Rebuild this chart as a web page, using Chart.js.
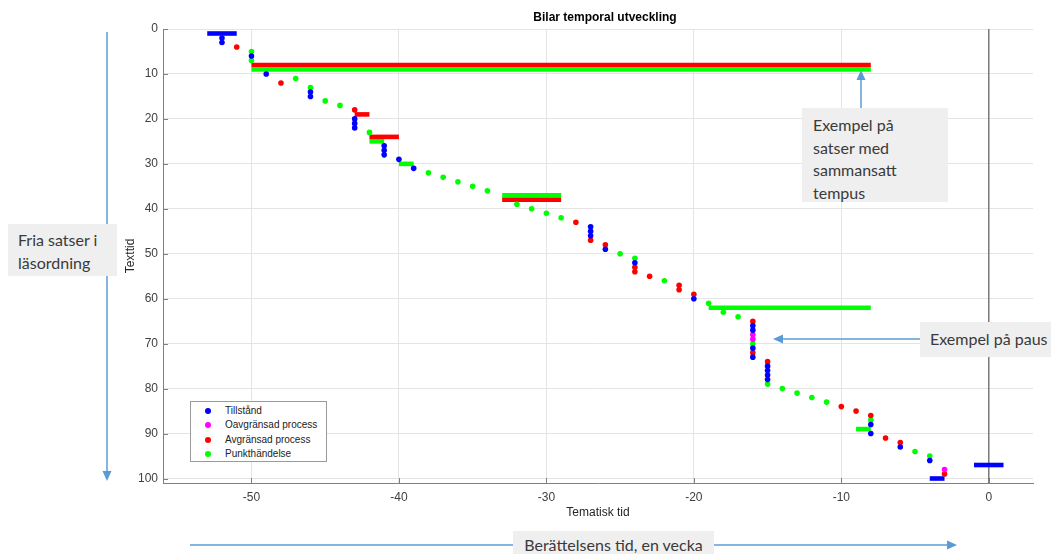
<!DOCTYPE html>
<html>
<head>
<meta charset="utf-8">
<title>Bilar temporal utveckling</title>
<script src="https://cdn.jsdelivr.net/npm/chart.js@4.4.1/dist/chart.umd.min.js"></script>
<style>
  html, body { margin: 0; padding: 0; background: #fff; }
  #wrap { position: relative; width: 1051px; height: 554px; overflow: hidden; }
  #chart { position: absolute; left: 0; top: 0; }
  .note {
    position: absolute; box-sizing: border-box; white-space: nowrap;
    background: #efefef; color: #3a3a3a;
    font-family: Lato, "Noto Sans", sans-serif; font-size: 16px; line-height: 22.5px;
  }
  #legend {
    position: absolute; left: 190px; top: 401px; width: 137px; height: 61px;
    box-sizing: border-box; border: 1px solid #9a9a9a; background: #fff;
    font-family: "Liberation Sans", Arial, sans-serif; font-size: 10px; color: #222;
    padding-top: 1.5px;
  }
  #legend .row { position: relative; height: 14.5px; line-height: 14.5px; padding-left: 34px; }
  #legend .dot { position: absolute; left: 14px; top: 4.2px; width: 6px; height: 6px; border-radius: 50%; }
</style>
</head>
<body>
<div id="wrap">
  <canvas id="chart" width="1051" height="554"></canvas>
  <div id="legend"></div>
  <div class="note" style="left:8px;top:224px;width:109px;height:52px;padding:5px 10px;">Fria satser i<br>läsordning</div>
  <div class="note" style="left:513px;top:531px;width:201px;height:23px;padding:3px 0 0 0;text-align:center;">Berättelsens tid, en vecka</div>
  <div class="note" style="left:802px;top:108px;width:146px;height:94px;padding:6px 11px;">Exempel på<br>satser med<br>sammansatt<br>tempus</div>
  <div class="note" style="left:920px;top:322px;width:131px;height:35px;padding:6px 10px;">Exempel på paus</div>
</div>
<script>
// Axis tick values
const xTicks = [-50, -40, -30, -20, -10, 0];
const yTicks = [0, 10, 20, 30, 40, 50, 60, 70, 80, 90, 100];

// Sentence points: [thematic time, text time]
const tillstand = [
  [-52, 2], [-52, 3], [-50, 6], [-49, 10], [-46, 14], [-46, 15], [-43, 20], [-43, 21], [-43, 22],
  [-41, 26], [-41, 27], [-41, 28], [-40, 29], [-39, 31], [-27, 44], [-27, 45], [-27, 46], [-26, 49],
  [-24, 52], [-20, 60], [-16, 66], [-16, 67], [-16, 71], [-16, 73], [-15, 75], [-15, 76], [-15, 77],
  [-15, 78], [-8, 88], [-8, 90], [-6, 93], [-4, 96]
];
const oavgransad = [[-16, 68], [-16, 69], [-3, 98]];
const avgransad = [
  [-51, 4], [-48, 12], [-43, 18], [-28, 43], [-27, 47], [-26, 48], [-24, 53], [-24, 54], [-23, 55],
  [-21, 57], [-21, 58], [-20, 59], [-16, 65], [-16, 72], [-15, 74], [-10, 84], [-9, 85], [-8, 86],
  [-7, 91], [-6, 92], [-3, 99]
];
const punkt = [
  [-50, 5], [-50, 7], [-47, 11], [-46, 13], [-45, 16], [-44, 17], [-42, 23], [-38, 32], [-37, 33],
  [-36, 34], [-35, 35], [-34, 36], [-32, 39], [-31, 40], [-30, 41], [-29, 42], [-25, 50], [-24, 51],
  [-22, 56], [-19, 61], [-18, 63], [-17, 64], [-16, 70], [-15, 79], [-14, 80], [-13, 81], [-12, 82],
  [-11, 83], [-8, 87], [-5, 94], [-4, 95]
];

// Sentences spanning a stretch of thematic time: [from, to, text time]
const tillstandSpans = [[-53, -51, 1], [-4, -3, 100], [-1, 1, 97]];
const avgransadSpans = [[-50, -8, 8], [-43, -42, 19], [-42, -40, 24], [-33, -29, 38]];
const punktSpans = [[-50, -8, 9], [-42, -41, 25], [-40, -39, 30], [-33, -29, 37], [-19, -8, 62], [-9, -8, 89]];

// Present moment of the story
const nu = 0;

const categories = ['Tillstånd', 'Oavgränsad process', 'Avgränsad process', 'Punkthändelse'];
const colors = ['#0000ff', '#ff00ff', '#ff0000', '#00ff00'];
const pointSets = [tillstand, oavgransad, avgransad, punkt];
const spanSets = [tillstandSpans, [], avgransadSpans, punktSpans];

const FONT = '"Liberation Sans", Arial, Helvetica, sans-serif';

const datasets = [];
// reference line at the story's present
datasets.push({
  type: 'line', data: [{ x: nu, y: 0 }, { x: nu, y: 101 }],
  borderColor: '#7a7a7a', borderWidth: 1.5, pointRadius: 0, order: 5, clip: false
});
// spans as thick horizontal segments
spanSets.forEach((spans, i) => {
  spans.forEach(([a, b, t]) => {
    datasets.push({
      type: 'line', data: [{ x: a, y: t }, { x: b, y: t }],
      borderColor: colors[i], borderWidth: 4.6, borderCapStyle: 'butt',
      pointRadius: 0, order: 3
    });
  });
});
// points
pointSets.forEach((pts, i) => {
  datasets.push({
    type: 'scatter', label: categories[i],
    data: pts.map(([x, y]) => ({ x, y })),
    backgroundColor: colors[i], borderWidth: 0, pointRadius: 2.8, order: 1
  });
});

function arrow(ctx, x1, y1, x2, y2) {
  const ang = Math.atan2(y2 - y1, x2 - x1);
  const len = 10, hw = 4.5;
  const bx = x2 - len * Math.cos(ang), by = y2 - len * Math.sin(ang);
  ctx.beginPath();
  ctx.moveTo(x1, y1);
  ctx.lineTo(bx, by);
  ctx.stroke();
  ctx.beginPath();
  ctx.moveTo(x2, y2);
  ctx.lineTo(bx + hw * Math.sin(ang), by - hw * Math.cos(ang));
  ctx.lineTo(bx - hw * Math.sin(ang), by + hw * Math.cos(ang));
  ctx.closePath();
  ctx.fill();
}

const decorations = {
  id: 'decorations',
  afterLayout(chart) {
    // nudge the title a little to the right of the plot centre
    const t = chart.titleBlock;
    if (t) { t.left += 7; t.right += 7; }
  },
  beforeDatasetsDraw(chart) {
    // short inward tick marks on the axes
    const { ctx, chartArea: a, scales: { x, y } } = chart;
    ctx.save();
    ctx.strokeStyle = '#808080';
    ctx.lineWidth = 1;
    ctx.beginPath();
    y.ticks.forEach(t => {
      const py = Math.round(y.getPixelForValue(t.value)) + 0.5;
      ctx.moveTo(a.left, py); ctx.lineTo(a.left + 5, py);
    });
    x.ticks.forEach(t => {
      const px = Math.round(x.getPixelForValue(t.value)) + 0.5;
      ctx.moveTo(px, a.bottom); ctx.lineTo(px, a.bottom - 5);
    });
    ctx.stroke();
    ctx.restore();
  },
  afterDraw(chart) {
    // explanatory arrows
    const { ctx } = chart;
    ctx.save();
    ctx.strokeStyle = '#5b9bd5';
    ctx.fillStyle = '#5b9bd5';
    ctx.lineWidth = 1.5;
    arrow(ctx, 107, 32, 107, 481);
    arrow(ctx, 190, 545, 957, 545);
    arrow(ctx, 861, 108, 861, 70);
    arrow(ctx, 920, 339, 773, 339);
    ctx.restore();
  }
};

const chart = new Chart(document.getElementById('chart'), {
  type: 'scatter',
  data: { datasets },
  options: {
    responsive: false,
    animation: false,
    events: [],
    layout: { padding: { left: 120, right: 18, top: 4, bottom: 31 } },
    plugins: {
      legend: { display: false },
      tooltip: { enabled: false },
      title: {
        display: true, text: 'Bilar temporal utveckling', fullSize: false,
        color: '#000', font: { family: FONT, size: 12, weight: 'bold' },
        padding: { top: 6, bottom: 4.6 }
      }
    },
    scales: {
      x: {
        type: 'linear', min: -56, max: 3,
        afterBuildTicks: s => { s.ticks = xTicks.map(v => ({ value: v })); },
        afterFit: s => { s.height = 40; },
        grid: { color: '#e4e4e4', drawTicks: false },
        border: { color: '#808080' },
        ticks: { padding: 7, color: '#404040', font: { family: FONT, size: 12 } },
        title: {
          display: true, text: 'Tematisk tid', color: '#262626',
          font: { family: FONT, size: 12 }, padding: { top: 0, bottom: 3 }
        }
      },
      y: {
        type: 'linear', reverse: true, min: 0, max: 101,
        afterBuildTicks: s => { s.ticks = yTicks.map(v => ({ value: v })); },
        afterFit: s => { s.width = 43; },
        grid: { color: '#e4e4e4', drawTicks: false },
        border: { color: '#808080' },
        ticks: { padding: 5, color: '#404040', font: { family: FONT, size: 12 } },
        title: {
          display: true, text: 'Texttid', color: '#262626',
          font: { family: FONT, size: 12 }, padding: { top: 3, bottom: 0 }
        }
      }
    }
  },
  plugins: [decorations]
});

// legend built from the point datasets
const legendEl = document.getElementById('legend');
chart.data.datasets.filter(d => d.label).forEach(d => {
  const row = document.createElement('div');
  row.className = 'row';
  const dot = document.createElement('span');
  dot.className = 'dot';
  dot.style.background = d.backgroundColor;
  row.appendChild(dot);
  row.appendChild(document.createTextNode(d.label));
  legendEl.appendChild(row);
});
</script>
</body>
</html>
